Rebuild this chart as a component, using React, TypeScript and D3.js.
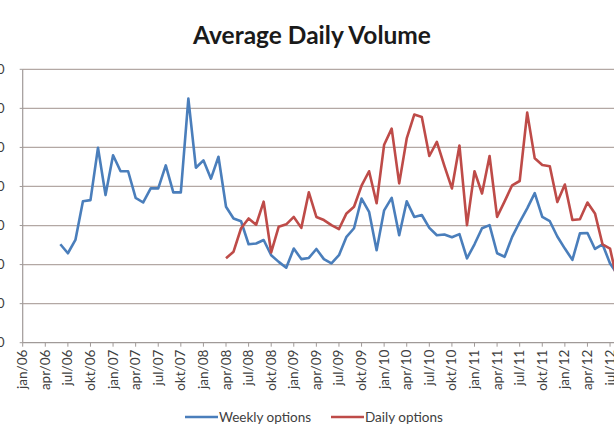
import React, { useRef, useEffect } from "react";
import * as d3 from "d3";

// quarterly axis labels, one every 3 months starting jan/06
const tickLabels = [
  "jan/06", "apr/06", "jul/06", "okt/06",
  "jan/07", "apr/07", "jul/07", "okt/07",
  "jan/08", "apr/08", "jul/08", "okt/08",
  "jan/09", "apr/09", "jul/09", "okt/09",
  "jan/10", "apr/10", "jul/10", "okt/10",
  "jan/11", "apr/11", "jul/11", "okt/11",
  "jan/12", "apr/12", "jul/12",
];

// monthly values; weekly options start jun/06 (month 5), daily options start apr/08 (month 27)
const weeklyStart = 5;
const weeklyOptions = [
  25.2, 22.9, 26.3, 36.2, 36.5, 49.9, 37.8, 48.0, 43.9, 43.9,
  37.1, 35.9, 39.5, 39.5, 45.4, 38.5, 38.5, 62.5, 44.8, 46.7,
  42.0, 47.6, 34.8, 31.8, 31.1, 25.2, 25.4, 26.3, 22.4, 20.7,
  19.2, 24.1, 21.4, 21.7, 24.0, 21.4, 20.3, 22.4, 27.1, 29.3,
  36.9, 33.5, 23.7, 33.9, 37.1, 27.5, 36.2, 32.2, 32.7, 29.4,
  27.5, 27.7, 27.0, 27.8, 21.6, 25.2, 29.3, 30.1, 22.9, 22.0,
  27.1, 30.9, 34.4, 38.3, 32.2, 31.1, 27.2, 24.1, 21.2, 28.0,
  28.1, 24.0, 25.2, 20.3, 17.5,
];

const dailyStart = 27;
const dailyOptions = [
  21.6, 23.3, 29.3, 31.8, 30.2, 36.1, 23.1, 29.7, 30.3, 32.2,
  29.4, 38.5, 32.2, 31.4, 30.1, 29.1, 33.1, 34.8, 40.2, 43.9,
  35.7, 50.7, 54.8, 40.8, 52.3, 58.4, 57.8, 47.8, 51.4, 45.3,
  39.5, 50.5, 30.1, 43.9, 38.2, 47.8, 32.2, 36.2, 40.3, 41.4,
  58.9, 47.2, 45.5, 45.2, 36.0, 40.5, 31.4, 31.6, 35.9, 33.1,
  25.2, 24.1, 15.5,
];

const yTicks = [0, 10, 20, 30, 40, 50, 60, 70];

const seriesNames = ["Weekly options", "Daily options"];
const seriesColors = ["#4a7ebb", "#be4b48"];

const font = "Lato, 'Open Sans', sans-serif";

const App = () => {
  const svgRef = useRef<SVGSVGElement>(null);

  useEffect(() => {
    const svg = d3.select(svgRef.current);
    svg.selectAll("*").remove();

    const width = 614;
    const height = 431;
    const plot = { left: 22.7, top: 69.3, bottom: 342.7, monthStep: 7.53 };
    const nMonths = tickLabels.length * 3;

    const x = d3
      .scaleLinear()
      .domain([0, nMonths])
      .range([plot.left, plot.left + nMonths * plot.monthStep]);

    const y = d3
      .scaleLinear()
      .domain([0, 70])
      .range([plot.bottom, plot.top]);

    svg.append("rect").attr("width", width).attr("height", height).attr("fill", "#fff");

    // title
    svg
      .append("text")
      .attr("x", 312)
      .attr("y", 44)
      .attr("text-anchor", "middle")
      .attr("font-family", font)
      .attr("font-weight", "bold")
      .attr("font-size", 24.5)
      .attr("fill", "#1a1a1a")
      .text("Average Daily Volume");

    // gridlines
    svg
      .append("g")
      .selectAll("line")
      .data(yTicks.slice(1))
      .join("line")
      .attr("x1", plot.left)
      .attr("x2", width)
      .attr("y1", (d) => y(d))
      .attr("y2", (d) => y(d))
      .attr("stroke", "#b3a8a4")
      .attr("stroke-width", 1.3);

    // y axis (labels cropped off the left edge, as in the source picture)
    const yAxis = svg.append("g");
    yAxis
      .append("line")
      .attr("x1", plot.left)
      .attr("x2", plot.left)
      .attr("y1", plot.top)
      .attr("y2", plot.bottom)
      .attr("stroke", "#a09a98")
      .attr("stroke-width", 1.2);
    yAxis
      .selectAll("line.tick")
      .data(yTicks)
      .join("line")
      .attr("class", "tick")
      .attr("x1", plot.left - 3)
      .attr("x2", plot.left)
      .attr("y1", (d) => y(d))
      .attr("y2", (d) => y(d))
      .attr("stroke", "#a09a98");
    yAxis
      .selectAll("text")
      .data(yTicks)
      .join("text")
      .attr("x", 4.5)
      .attr("y", (d) => y(d) + 4.5)
      .attr("text-anchor", "end")
      .attr("font-family", font)
      .attr("font-size", 13)
      .attr("fill", "#404040")
      .text((d) => d);

    // x axis
    const xAxis = svg.append("g");
    xAxis
      .append("line")
      .attr("x1", plot.left)
      .attr("x2", width)
      .attr("y1", plot.bottom)
      .attr("y2", plot.bottom)
      .attr("stroke", "#a09a98")
      .attr("stroke-width", 1.2);
    xAxis
      .selectAll("line.tick")
      .data(tickLabels)
      .join("line")
      .attr("class", "tick")
      .attr("x1", (d, i) => x(i * 3))
      .attr("x2", (d, i) => x(i * 3))
      .attr("y1", plot.bottom)
      .attr("y2", plot.bottom + 4)
      .attr("stroke", "#a09a98");
    xAxis
      .selectAll("text")
      .data(tickLabels)
      .join("text")
      .attr("transform", (d, i) => `translate(${x(i * 3) + 4.5},${plot.bottom + 7}) rotate(-90)`)
      .attr("text-anchor", "end")
      .attr("font-family", font)
      .attr("font-size", 13.5)
      .attr("fill", "#404040")
      .text((d) => d);

    // lines
    const line = d3
      .line<number[]>()
      .x((d) => x(d[0]))
      .y((d) => y(d[1]));

    const series = [
      weeklyOptions.map((v, i) => [weeklyStart + i, v]),
      dailyOptions.map((v, i) => [dailyStart + i, v]),
    ];

    svg
      .append("g")
      .selectAll("path")
      .data(series)
      .join("path")
      .attr("fill", "none")
      .attr("stroke", (d, i) => seriesColors[i])
      .attr("stroke-width", 2.6)
      .attr("stroke-linejoin", "round")
      .attr("d", (d) => line(d));

    // legend
    const legendX = [185, 331];
    const legend = svg
      .append("g")
      .selectAll("g")
      .data(seriesNames)
      .join("g")
      .attr("transform", (d, i) => `translate(${legendX[i]},417)`);
    legend
      .append("line")
      .attr("x1", 0)
      .attr("x2", 33)
      .attr("stroke", (d, i) => seriesColors[i])
      .attr("stroke-width", 2.6);
    legend
      .append("text")
      .attr("x", 34)
      .attr("y", 4.5)
      .attr("font-family", font)
      .attr("font-size", 13.5)
      .attr("fill", "#404040")
      .text((d) => d);
  }, []);

  return (
    <>
      <style>{"body{margin:0}"}</style>
      <svg ref={svgRef} width={614} height={431} style={{ display: "block" }}></svg>
    </>
  );
};

export default App;
